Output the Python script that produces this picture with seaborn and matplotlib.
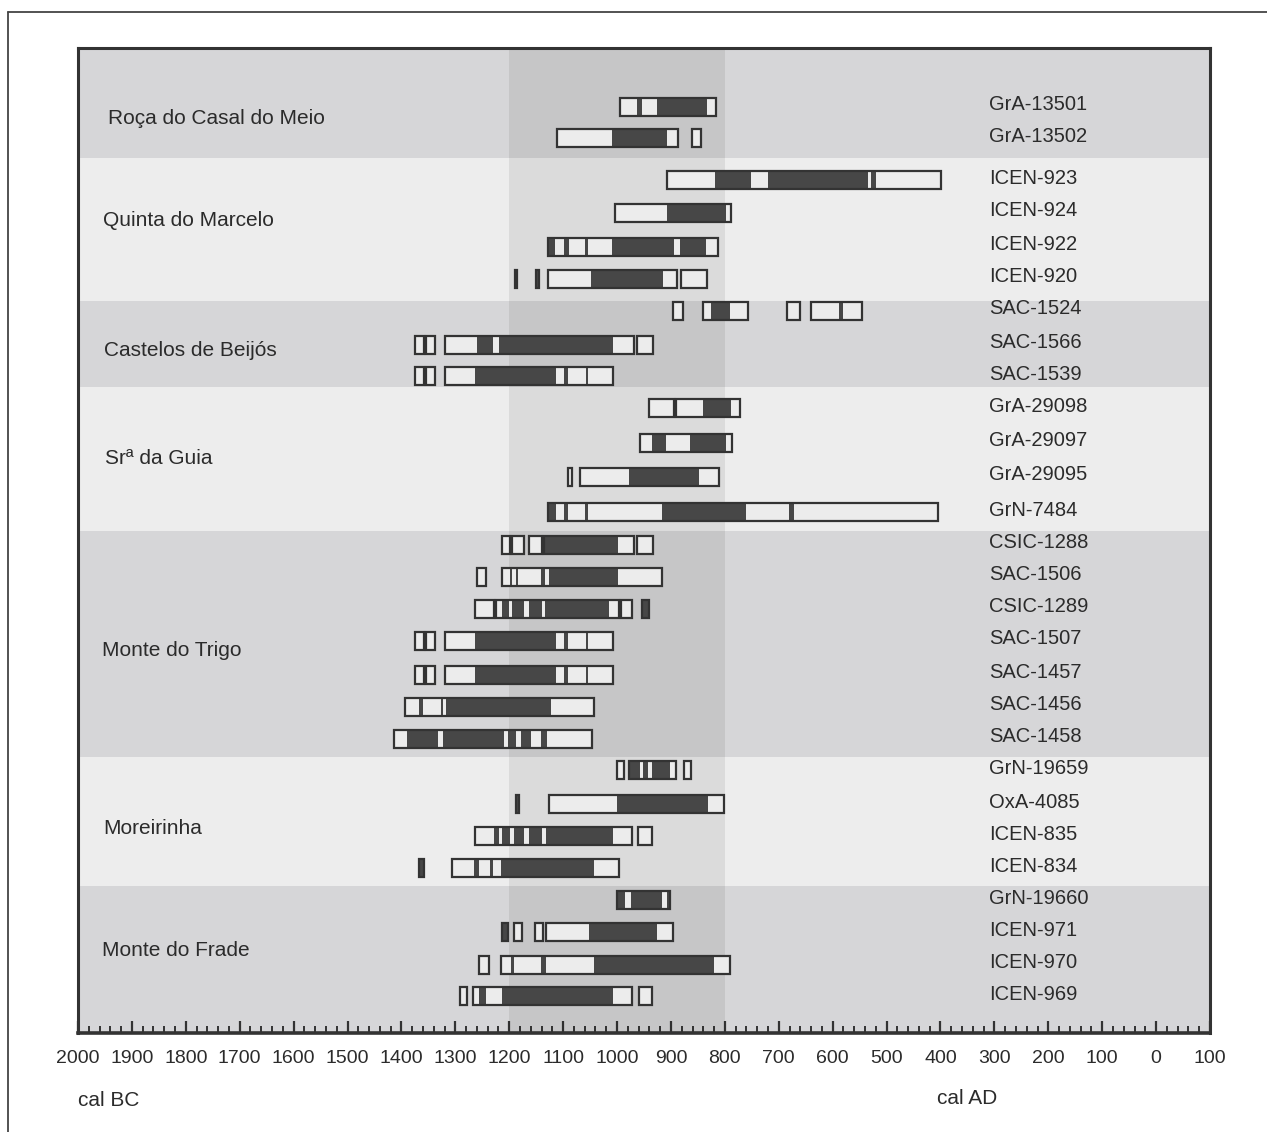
import matplotlib
matplotlib.use("Agg")
import matplotlib.pyplot as plt
import seaborn as sns
from matplotlib.ticker import MultipleLocator
from matplotlib.lines import Line2D

sns.set_theme(style="white")
plt.rcParams['font.family'] = ['Liberation Sans', 'DejaVu Sans']

# ---------------- data (years cal BC) ----------------
lab_ids = ["GrA-13501", "GrA-13502", "ICEN-923", "ICEN-924", "ICEN-922", "ICEN-920",
           "SAC-1524", "SAC-1566", "SAC-1539", "GrA-29098", "GrA-29097", "GrA-29095",
           "GrN-7484", "CSIC-1288", "SAC-1506", "CSIC-1289", "SAC-1507", "SAC-1457",
           "SAC-1456", "SAC-1458", "GrN-19659", "OxA-4085", "ICEN-835", "ICEN-834",
           "GrN-19660", "ICEN-971", "ICEN-970", "ICEN-969"]

# 2-sigma ranges (outlined boxes), start BC -> end BC
sigma2 = [
    [(995, 816)],
    [(1112, 887), (861, 845)],
    [(908, 399)],
    [(1003, 788)],
    [(1129, 813)],
    [(1190, 1185), (1150, 1145), (1129, 888), (881, 833)],
    [(896, 878), (841, 757), (685, 661), (640, 545)],
    [(1374, 1359), (1354, 1338), (1319, 968), (963, 933)],
    [(1374, 1359), (1354, 1338), (1319, 1008)],
    [(941, 895), (891, 772)],
    [(957, 786)],
    [(1091, 1083), (1069, 811)],
    [(1128, 404)],
    [(1214, 1199), (1194, 1173), (1163, 1139), (1136, 968), (963, 933)],
    [(1259, 1243), (1214, 917)],
    [(1263, 1228), (1224, 997), (992, 972), (953, 941)],
    [(1374, 1359), (1354, 1338), (1319, 1008)],
    [(1374, 1359), (1354, 1338), (1319, 1008)],
    [(1393, 1043)],
    [(1413, 1047)],
    [(1001, 988), (977, 891), (875, 862)],
    [(1188, 1182), (1126, 801)],
    [(1263, 972), (962, 935)],
    [(1367, 1358), (1307, 997)],
    [(1001, 901)],
    [(1213, 1202), (1192, 1177), (1152, 1137), (1132, 896)],
    [(1257, 1238), (1216, 791)],
    [(1292, 1278), (1267, 972), (960, 936)],
]

# 1-sigma ranges (dark fills)
sigma1 = [
    [(963, 954), (926, 833)],
    [(1010, 908)],
    [(818, 752), (720, 534), (529, 520)],
    [(908, 798)],
    [(1129, 1115), (1099, 1089), (1059, 1054), (1009, 894), (883, 835)],
    [(1190, 1185), (1150, 1145), (1049, 914)],
    [(826, 790), (589, 580)],
    [(1259, 1230), (1219, 1008)],
    [(1263, 1114), (1099, 1091), (1058, 1054)],
    [(841, 788)],
    [(936, 910), (865, 798)],
    [(977, 848)],
    [(1128, 1114), (1099, 1091), (1059, 1054), (917, 761), (681, 671)],
    [(1136, 999)],
    [(1199, 1194), (1188, 1184), (1142, 1133), (1126, 999)],
    [(1214, 1201), (1194, 1173), (1163, 1140), (1133, 1015), (953, 941)],
    [(1263, 1114), (1099, 1091), (1058, 1054)],
    [(1263, 1114), (1099, 1091), (1058, 1054)],
    [(1367, 1360), (1326, 1323), (1318, 1123)],
    [(1389, 1333), (1323, 1209), (1202, 1188), (1178, 1160), (1142, 1130)],
    [(977, 958), (951, 942), (935, 902)],
    [(1188, 1182), (1001, 831)],
    [(1228, 1219), (1213, 1199), (1192, 1173), (1163, 1139), (1132, 1008)],
    [(1367, 1358), (1266, 1257), (1235, 1231), (1216, 1043)],
    [(1001, 986), (975, 917), (907, 901)],
    [(1213, 1202), (1052, 926)],
    [(1197, 1192), (1142, 1132), (1042, 820)],
    [(1256, 1243), (1213, 1008)],
]

group_names = ["Roça do Casal do Meio", "Quinta do Marcelo", "Castelos de Beijós",
               "Srª da Guia", "Monte do Trigo", "Moreirinha", "Monte do Frade"]

tick_values = list(range(-2000, 101, 100))
tick_labels = [str(abs(v)) for v in tick_values]

# ---------------- layout ----------------
row_y = [107, 138, 180, 213, 247, 279, 311, 345, 376, 408, 443, 477, 512, 545, 577,
         609, 641, 675, 707, 739, 770, 804, 836, 868, 900, 932, 965, 996]
band_edges = [48, 158, 301, 387, 531, 757, 886, 1033]
group_label_y = [118, 220, 350, 458, 650, 828, 951]
group_label_x = [-1945, -1953, -1951, -1949, -1955, -1953, -1955]
band_colors = ["#d6d6d8", "#ededed"]
bar_h = 18
dark = "#474747"
edge = "#333333"
boxfill = "#ececec"
txt = "#2b2b2b"

W, H = 1267, 1132
fig = plt.figure(figsize=(W / 100, H / 100), dpi=100)
fig.patch.set_facecolor("white")
ax = fig.add_axes([78 / W, 1 - 1033 / H, (1210 - 78) / W, (1033 - 48) / H])

ax.set_xlim(-2000, 100)
ax.set_ylim(1033, 48)

for i in range(len(group_names)):
    ax.axhspan(band_edges[i], band_edges[i + 1], color=band_colors[i % 2], lw=0, zorder=0)
ax.axvspan(-1200, -800, color="black", alpha=0.075, lw=0, zorder=1)

for i, y in enumerate(row_y):
    for s, e in sigma2[i]:
        ax.barh(y, s - e, left=-s, height=bar_h, color=boxfill, edgecolor="none", zorder=2)
    for s, e in sigma1[i]:
        ax.barh(y, s - e, left=-s, height=bar_h, color=dark, edgecolor="none", zorder=3)
    for s, e in sigma2[i]:
        ax.barh(y, s - e, left=-s, height=bar_h, fill=False, edgecolor=edge,
                linewidth=1.6, zorder=4)
    ax.text(-310, y - 2, lab_ids[i], ha="left", va="center", fontsize=14.5, color=txt, zorder=5)

for name, gx, gy in zip(group_names, group_label_x, group_label_y):
    ax.text(gx, gy, name, ha="left", va="center", fontsize=15, color=txt, zorder=5)

ax.set_xticks(tick_values)
ax.set_xticklabels(tick_labels, family=['Liberation Sans Narrow', 'Liberation Sans', 'DejaVu Sans'])
ax.xaxis.set_minor_locator(MultipleLocator(20))
ax.tick_params(axis="x", which="major", direction="in", length=9, width=1.6,
               color=edge, pad=12, labelsize=14, labelcolor=txt, bottom=True)
ax.tick_params(axis="x", which="minor", direction="in", length=5, width=1.4,
               color=edge, bottom=True)
ax.set_yticks([])
ax.grid(False)
for sp in ax.spines.values():
    sp.set_visible(True)
    sp.set_color(edge)
    sp.set_linewidth(2.2)
ax.spines["bottom"].set_linewidth(2.6)

fig.text(78 / W, 1 - 1101 / H, "cal BC", ha="left", va="center", fontsize=15, color=txt)
fig.text(937 / W, 1 - 1098 / H, "cal AD", ha="left", va="center", fontsize=15, color=txt)

# outer frame (top and left edges)
fig.add_artist(Line2D([8 / W, 1.0], [1 - 12 / H, 1 - 12 / H], transform=fig.transFigure,
                      color="#444444", lw=1.3))
fig.add_artist(Line2D([8 / W, 8 / W], [1 - 12 / H, 0.0], transform=fig.transFigure,
                      color="#444444", lw=1.3))

fig.savefig("out.png", dpi=100, facecolor="white")
